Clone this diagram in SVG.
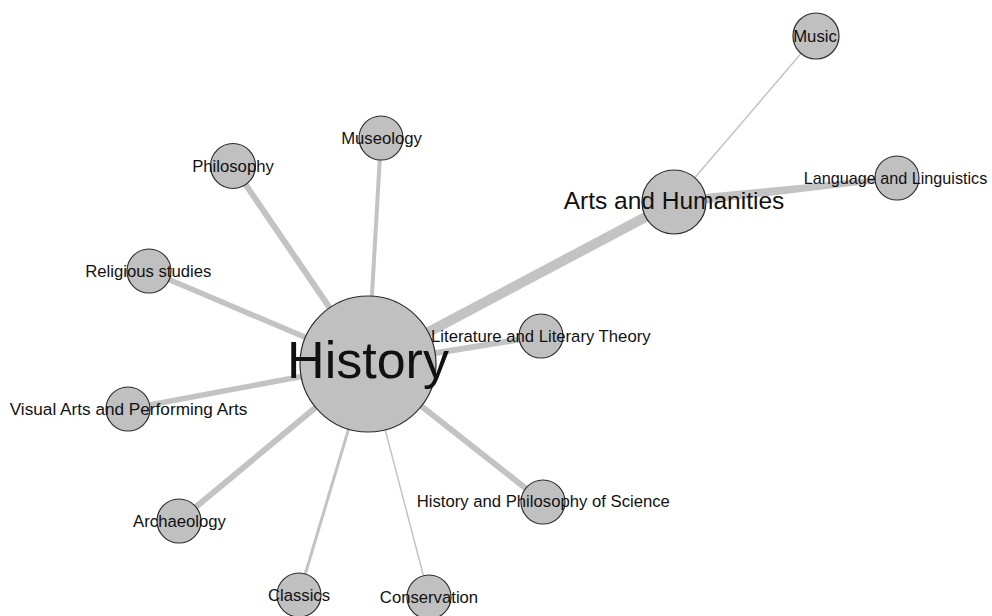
<svg xmlns="http://www.w3.org/2000/svg" width="992" height="616" viewBox="0 0 992 616">
<style>
.e{stroke:#c3c3c3;stroke-linecap:butt;fill:none}
.ep{fill:#c3c3c3;stroke:none}
.n{fill:#c0c0c0;stroke:#2b2b2b;stroke-width:1.2}
.t{font-family:"Liberation Sans",Arial,sans-serif;font-size:16.7px;fill:#111;text-anchor:middle}
</style>
<rect width="992" height="616" fill="#fff"/>
<g id="connectors">
<line class="e" x1="368" y1="364" x2="674" y2="202" stroke-width="10"/>
<polygon class="ep" points="673,197 897,175.5 897.5,180.5 675,207"/>
<line class="e" x1="674" y1="202" x2="816" y2="36" stroke-width="1.5"/>
<line class="e" x1="368" y1="364" x2="381" y2="138" stroke-width="4"/>
<line class="e" x1="368" y1="364" x2="233" y2="166" stroke-width="6"/>
<line class="e" x1="368" y1="364" x2="149" y2="271" stroke-width="5.5"/>
<line class="e" x1="368" y1="364" x2="128" y2="409" stroke-width="5.5"/>
<line class="e" x1="368" y1="364" x2="179" y2="521" stroke-width="6"/>
<line class="e" x1="368" y1="364" x2="299" y2="595" stroke-width="3"/>
<line class="e" x1="368" y1="364" x2="429" y2="597" stroke-width="1.5"/>
<line class="e" x1="368" y1="364" x2="543" y2="502" stroke-width="6"/>
<line class="e" x1="368" y1="364" x2="541" y2="336" stroke-width="6"/>
</g>
<g id="node-history"><circle class="n" cx="368" cy="364" r="68"/><text class="t" x="368" y="378" style="font-size:52px">History</text></g>
<g id="node-arts"><circle class="n" cx="674" cy="202" r="32"/><text class="t" x="674" y="208.5" style="font-size:24.5px">Arts and Humanities</text></g>
<g id="node-music"><circle class="n" cx="816" cy="36" r="23"/><text class="t" x="815" y="41.5">Music</text></g>
<g id="node-language"><circle class="n" cx="897" cy="178" r="22"/><text class="t" x="895.5" y="183.5" style="font-size:16.2px">Language and Linguistics</text></g>
<g id="node-museology"><circle class="n" cx="381" cy="138" r="22"/><text class="t" x="381.5" y="143.7">Museology</text></g>
<g id="node-philosophy"><circle class="n" cx="233" cy="166" r="22.5"/><text class="t" x="233" y="171.7">Philosophy</text></g>
<g id="node-religious"><circle class="n" cx="149" cy="271" r="22"/><text class="t" x="148.3" y="276.5">Religious studies</text></g>
<g id="node-visual"><circle class="n" cx="128" cy="409" r="22"/><text class="t" x="128.5" y="414.5" style="font-size:17.2px">Visual Arts and Performing Arts</text></g>
<g id="node-archaeology"><circle class="n" cx="179" cy="521" r="22"/><text class="t" x="179.5" y="526.5">Archaeology</text></g>
<g id="node-classics"><circle class="n" cx="299" cy="595" r="22"/><text class="t" x="299" y="600.5">Classics</text></g>
<g id="node-conservation"><circle class="n" cx="429" cy="597" r="22"/><text class="t" x="429" y="602.5">Conservation</text></g>
<g id="node-literature"><circle class="n" cx="541" cy="336" r="22"/><text class="t" x="540.8" y="341.5">Literature and Literary Theory</text></g>
<g id="node-hps"><circle class="n" cx="543" cy="502" r="22"/><text class="t" x="543.3" y="507">History and Philosophy of Science</text></g>
</svg>
